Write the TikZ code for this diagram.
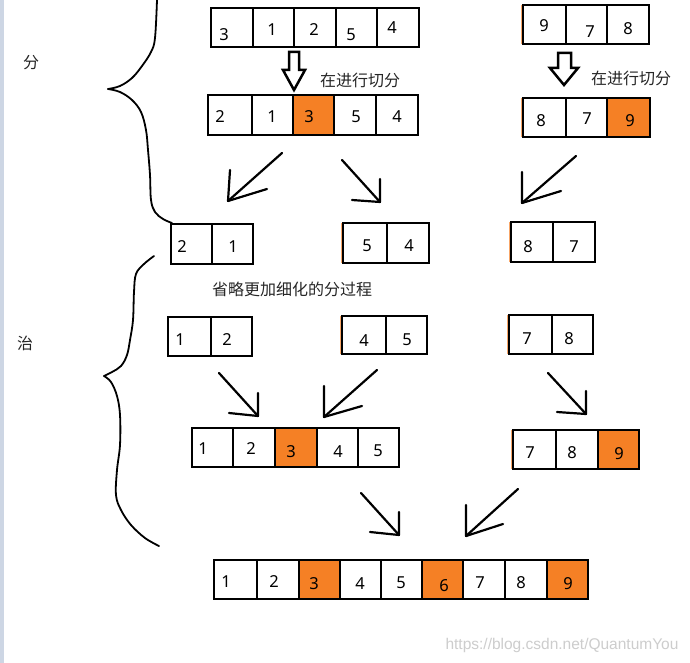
\documentclass[tikz,border=0pt]{standalone}
\usepackage{fontspec}
\setmainfont{Noto Sans}
\newfontfamily\cjk{Noto Sans CJK SC}
\newfontfamily\wmfont{Liberation Sans}
\definecolor{pivot}{RGB}{245,128,37}
\definecolor{stripc}{RGB}{205,214,228}
\definecolor{wmgray}{RGB}{205,205,205}
\newcommand\mycell[6]{%
  \node[#6, minimum width={(#4-#2)*1pt}, minimum height={(#5-#3)*1pt}] (#1) at ({(#2+#4)/2},{(#3+#5)/2}) {};}
\newcommand\handarrow[5]{%
  \coordinate (#1s) at #2; \coordinate (#1t) at #3;
  \coordinate (#1h) at #4; \coordinate (#1k) at #5;
  \draw[hand] (#1s) -- (#1t);
  \draw[hand] (#1h) -- (#1t) -- (#1k);}
\newcommand\sliver[3]{\draw[pivot!70, line width=0.7pt] (#1-1.7,#2) -- (#1-1.7,#3);}
\begin{document}
\begin{tikzpicture}[x=1pt,y=-1pt,
  cellbox/.style={draw=black, line width=2.7pt, inner sep=0pt, fill=white},
  pivotbox/.style={cellbox, fill=pivot},
  num/.style={font=\fontsize{16.5}{16.5}\selectfont, inner sep=0pt},
  lbl/.style={font=\cjk\fontsize{16}{16}\selectfont, inner sep=0pt, text=black!85},
  hand/.style={line width=2.2pt, line cap=round, line join=round},
  hollow/.style={draw=black, line width=2.5pt, fill=white, line join=miter},
  bracel/.style={line width=1.8pt, line cap=round, line join=round}]
\useasboundingbox (0,0) rectangle (690,663);
\fill[white] (0,0) rectangle (690,663);
\fill[stripc] (0,0) rectangle (4,663);

% braces
\draw[bracel] plot[smooth, tension=0.6] coordinates {(157,0) (155,38) (151,52) (142,66) (132,78) (120,86) (108,89)};
\draw[bracel] plot[smooth, tension=0.6] coordinates {(108,89) (120,92) (132,100) (141,112) (146,130) (148,150) (150,175) (151,200) (155,212) (163,219) (172,223)};
\draw[bracel] plot[smooth, tension=0.6] coordinates {(154,256) (144,264) (136,274) (134,292) (133,320) (130,340) (127,355) (121,366) (112,372) (104,376)};
\draw[bracel] plot[smooth, tension=0.6] coordinates {(104,376) (111,382) (117,396) (120,415) (120,445) (117,470) (116,495) (121,510) (131,525) (145,538) (159,546)};
\node[lbl] (fen) at (31,63) {分};
\node[lbl] (zhi) at (25,343) {治};

% row 1 left: 3 1 2 5 4
\mycell{a1}{211}{8}{253}{47}{cellbox}
\mycell{a2}{253}{8}{294}{47}{cellbox}
\mycell{a3}{294}{8}{336}{47}{cellbox}
\mycell{a4}{336}{8}{377}{47}{cellbox}
\mycell{a5}{377}{8}{419}{47}{cellbox}
\node[num] at (224,35) {3};
\node[num] at (272,30) {1};
\node[num] at (314,30) {2};
\node[num] at (351,35) {5};
\node[num] at (392,28) {4};

% row 1 right: 9 7 8
\mycell{b1}{523}{5}{566}{44}{cellbox}
\mycell{b2}{566}{5}{607}{44}{cellbox}
\mycell{b3}{607}{5}{649}{44}{cellbox}
\sliver{523}{5}{44}
\node[num] at (544,26) {9};
\node[num] at (590,32) {7};
\node[num] at (628,29) {8};

% hollow arrows
\draw[hollow] (289,52) -- (299,52) -- (299,70) -- (305,70) -- (294,90) -- (283,70) -- (289,70) -- cycle;
\coordinate (ha1) at (294,90);
\draw[hollow] (558,53) -- (571,53) -- (571,68) -- (578,68) -- (564,85) -- (550,68) -- (558,68) -- cycle;
\coordinate (ha2) at (564,85);
\node[lbl] (t1) at (360,80) {在进行切分};
\node[lbl] (t2) at (631,78) {在进行切分};

% row 2 left: 2 1 3 5 4
\mycell{c1}{208}{95}{252}{135}{cellbox}
\mycell{c2}{252}{95}{293}{135}{cellbox}
\mycell{c3}{293}{95}{334}{135}{pivotbox}
\mycell{c4}{334}{95}{376}{135}{cellbox}
\mycell{c5}{376}{95}{418}{135}{cellbox}
\node[num] at (220,117) {2};
\node[num] at (272,117) {1};
\node[num] at (309,117) {3};
\node[num] at (356,117) {5};
\node[num] at (397,117) {4};

% row 2 right: 8 7 9
\mycell{d1}{523}{98}{566}{137}{cellbox}
\mycell{d2}{566}{98}{607}{137}{cellbox}
\mycell{d3}{607}{98}{650}{137}{pivotbox}
\sliver{523}{98}{137}
\node[num] at (541,121) {8};
\node[num] at (587,119) {7};
\node[num] at (630,121) {9};

% arrows row 2 -> row 3
\handarrow{p1}{(282,153)}{(228,201)}{(230,170)}{(267,189)}
\handarrow{p2}{(342,160)}{(380,202)}{(380,179)}{(352,200)}
\handarrow{p3}{(576,156)}{(522,203)}{(522,172)}{(561,191)}

% row 3
\mycell{e1}{171}{224}{212}{264}{cellbox}
\mycell{e2}{212}{224}{253}{264}{cellbox}
\node[num] at (182,247) {2};
\node[num] at (233,247) {1};
\mycell{f1}{343}{223}{387}{263}{cellbox}
\mycell{f2}{387}{223}{429}{263}{cellbox}
\sliver{343}{223}{263}
\node[num] at (367,246) {5};
\node[num] at (409,246) {4};
\mycell{g1}{511}{222}{553}{262}{cellbox}
\mycell{g2}{553}{222}{595}{262}{cellbox}
\sliver{511}{222}{262}
\node[num] at (528,247) {8};
\node[num] at (574,247) {7};

\node[lbl] (t3) at (292,289) {省略更加细化的分过程};

% row 4
\mycell{h1}{168}{317}{211}{356}{cellbox}
\mycell{h2}{211}{317}{252}{356}{cellbox}
\node[num] at (180,340) {1};
\node[num] at (227,340) {2};
\mycell{i1}{342}{316}{386}{354}{cellbox}
\mycell{i2}{386}{316}{427}{354}{cellbox}
\sliver{342}{316}{354}
\node[num] at (364,341) {4};
\node[num] at (407,340) {5};
\mycell{j1}{509}{315}{552}{354}{cellbox}
\mycell{j2}{552}{315}{593}{354}{cellbox}
\sliver{509}{315}{354}
\node[num] at (527,339) {7};
\node[num] at (569,339) {8};

% arrows row 4 -> row 5
\handarrow{q1}{(219,373)}{(258,416)}{(258,393)}{(229,413)}
\handarrow{q2}{(377,370)}{(324,417)}{(324,386)}{(362,406)}
\handarrow{q3}{(548,373)}{(586,414)}{(586,391)}{(557,412)}

% row 5
\mycell{k1}{192}{428}{233}{467}{cellbox}
\mycell{k2}{233}{428}{275}{467}{cellbox}
\mycell{k3}{275}{428}{317}{467}{pivotbox}
\mycell{k4}{317}{428}{358}{467}{cellbox}
\mycell{k5}{358}{428}{399}{467}{cellbox}
\node[num] at (203,449) {1};
\node[num] at (251,449) {2};
\node[num] at (291,452) {3};
\node[num] at (338,452) {4};
\node[num] at (378,451) {5};
\mycell{l1}{513}{430}{556}{469}{cellbox}
\mycell{l2}{556}{430}{598}{469}{cellbox}
\mycell{l3}{598}{430}{639}{469}{pivotbox}
\sliver{513}{430}{469}
\node[num] at (530,453) {7};
\node[num] at (572,453) {8};
\node[num] at (619,454) {9};

% arrows row 5 -> final
\handarrow{r1}{(361,493)}{(399,535)}{(399,512)}{(370,532)}
\handarrow{r2}{(518,489)}{(466,536)}{(466,505)}{(503,524)}

% final row
\mycell{m1}{214}{560}{257}{599}{cellbox}
\mycell{m2}{257}{560}{299}{599}{cellbox}
\mycell{m3}{299}{560}{340}{599}{pivotbox}
\mycell{m4}{340}{560}{381}{599}{cellbox}
\mycell{m5}{381}{560}{422}{599}{cellbox}
\mycell{m6}{422}{560}{463}{599}{pivotbox}
\mycell{m7}{463}{560}{505}{599}{cellbox}
\mycell{m8}{505}{560}{547}{599}{cellbox}
\mycell{m9}{547}{560}{588}{599}{pivotbox}
\node[num] at (226,582) {1};
\node[num] at (274,582) {2};
\node[num] at (314,584) {3};
\node[num] at (360,584) {4};
\node[num] at (401,583) {5};
\node[num] at (444,586) {6};
\node[num] at (480,583) {7};
\node[num] at (521,583) {8};
\node[num] at (568,584) {9};

\node[font=\wmfont\fontsize{15.5}{15.5}\selectfont, text=wmgray, inner sep=0pt] (wm) at (562,645) {https://blog.csdn.net/QuantumYou};
\end{tikzpicture}
\end{document}
